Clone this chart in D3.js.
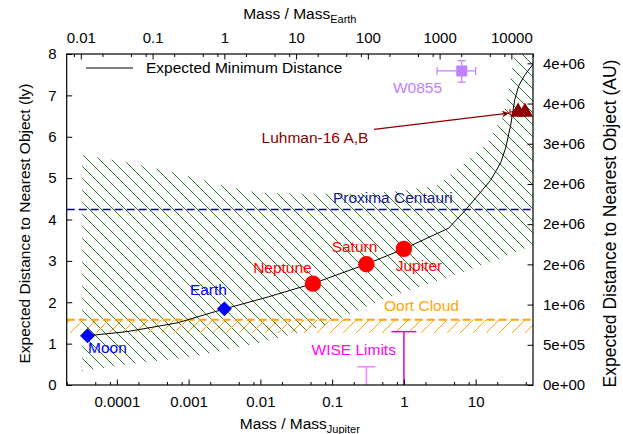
<!DOCTYPE html>
<html>
<head>
<meta charset="utf-8">
<script src="https://cdn.jsdelivr.net/npm/d3@7"></script>
<style>
body { margin: 0; background: #fff; }
text { font-family: "Liberation Sans", Arial, sans-serif; }
</style>
</head>
<body>
<svg class="theSvg" width="623" height="434"></svg>
<script>
var jupiterInEarths = 317.8;

// expected minimum distance (mass in M_jup, distance in ly)
var curveMass = [3.9e-5, 1.38e-4, 6.9e-4, 3.17e-3, 0.0129, 0.0536, 0.30, 1.0, 4.2, 6.9, 16.2, 22.3, 26.2, 30.8, 35.0, 39.8, 48.3, 62.4];
var curveDist = [1.19, 1.29, 1.50, 1.84, 2.13, 2.45, 2.92, 3.29, 3.79, 4.19, 4.95, 5.37, 5.73, 6.28, 6.89, 7.23, 7.49, 7.74];

// hatched band, upper and lower edges
var bandTopMass = [3.28e-5, 1.53e-4, 8.4e-4, 3.46e-3, 0.01, 0.04, 0.198, 0.9, 2.94, 4.92, 8.5, 14.7, 24.5, 27.9, 33.9, 36.3, 63];
var bandTopDist = [5.56, 5.37, 5.08, 4.79, 4.64, 4.62, 4.62, 4.69, 4.83, 5.15, 5.49, 5.87, 6.53, 7.01, 7.85, 8.0, 8.0];
var bandLowMass = [3.28e-5, 1.53e-4, 1.16e-3, 0.01, 0.069, 0.47, 3.24, 16.2, 63];
var bandLowDist = [0.34, 0.51, 0.68, 1.02, 1.40, 2.05, 2.54, 2.97, 3.38];

var bodyNames = ["Moon", "Earth", "Neptune", "Saturn", "Jupiter"];
var bodyMass = [3.9e-5, 3.15e-3, 0.054, 0.30, 1.0];
var bodyDist = [1.19, 1.84, 2.45, 2.92, 3.29];

var proximaDist = 4.24;
var oortDist = [1.26, 1.58];

var wiseMass = [0.3, 1.0];
var wiseDist = [0.44, 1.29];

var w0855Mass = [6.4, 2.9, 10];      // value, low, high
var w0855Dist = [7.59, 7.32, 7.84];

var luhmanMass = [39, 48.7];
var luhmanDist = [6.6, 6.6];
var luhmanMassLow = 30;

var arrowMass = [0.383, 29.1];
var arrowDist = [6.18, 6.57];

var xTickValues = [1e-4, 1e-3, 1e-2, 0.1, 1, 10];
var xTickLabels = ["0.0001", "0.001", "0.01", "0.1", "1", "10"];
var x2TickValues = [0.01, 0.1, 1, 10, 100, 1000, 10000];
var x2TickLabels = ["0.01", "0.1", "1", "10", "100", "1000", "10000"];
var yTickValues = [0, 1, 2, 3, 4, 5, 6, 7, 8];
var y2TickValues = [0, 5e5, 1e6, 1.5e6, 2e6, 2.5e6, 3e6, 3.5e6, 4e6];
var y2TickLabels = ["0e+00", "5e+05", "1e+06", "2e+06", "2e+06", "2e+06", "3e+06", "4e+06", "4e+06"];

var pL = 66.7, pR = 533, pT = 54, pB = 385;
var svg = d3.select(".theSvg");

var x = d3.scaleLog().domain([2e-5, 63]).range([pL, pR]);
var x2 = d3.scaleLog().domain([2e-5 * jupiterInEarths, 63 * jupiterInEarths]).range([pL, pR]);
var y = d3.scaleLinear().domain([0, 8]).range([pB, pT]);
var y2 = d3.scaleLinear().domain([0, 4.116e6]).range([pB, pT]);

var defs = svg.append("defs");
defs.append("clipPath").attr("id", "plotClip")
	.append("rect")
	.attr("x", pL).attr("y", pT)
	.attr("width", pR - pL).attr("height", pB - pT);

var hg = defs.append("pattern").attr("id", "hatchGreen")
	.attr("patternUnits", "userSpaceOnUse")
	.attr("width", 12).attr("height", 12);
hg.append("path")
	.attr("d", "M0,0 L12,12 M-3,9 L3,15 M9,-3 L15,3")
	.attr("stroke", "#2a7f2a").attr("stroke-width", 1);

var ho = defs.append("pattern").attr("id", "hatchOrange")
	.attr("patternUnits", "userSpaceOnUse")
	.attr("width", 13).attr("height", 13);
ho.append("path")
	.attr("d", "M0,13 L13,0 M-3,3 L3,-3 M10,16 L16,10")
	.attr("stroke", "#ffa500").attr("stroke-width", 1);

defs.append("marker").attr("id", "arrowHead")
	.attr("viewBox", "0 0 10 10").attr("refX", 10).attr("refY", 5)
	.attr("markerWidth", 10).attr("markerHeight", 7)
	.attr("markerUnits", "userSpaceOnUse")
	.attr("orient", "auto")
	.append("path").attr("d", "M0,0 L10,5 L0,10 L3,5 Z").attr("fill", "#8b0000");

var plot = svg.append("g").attr("clip-path", "url(#plotClip)");

// green hatched band
var bandPts = bandTopMass.map(function(m, i){ return [m, bandTopDist[i]]; })
	.concat(bandLowMass.map(function(m, i){ return [m, bandLowDist[i]]; }).reverse());
var ptLine = d3.line().x(function(d){ return x(d[0]); }).y(function(d){ return y(d[1]); });
plot.append("path")
	.attr("d", ptLine(bandPts) + "Z")
	.attr("fill", "url(#hatchGreen)");

// oort cloud
plot.append("rect")
	.attr("x", pL).attr("width", pR - pL)
	.attr("y", y(oortDist[1])).attr("height", y(oortDist[0]) - y(oortDist[1]))
	.attr("fill", "url(#hatchOrange)");
plot.append("line")
	.attr("x1", pL).attr("x2", pR)
	.attr("y1", y(oortDist[1])).attr("y2", y(oortDist[1]))
	.attr("stroke", "#ffa500").attr("stroke-width", 2)
	.style("stroke-dasharray", "8,4");

// proxima
plot.append("line")
	.attr("x1", pL).attr("x2", pR)
	.attr("y1", y(proximaDist)).attr("y2", y(proximaDist))
	.attr("stroke", "#00008b").attr("stroke-width", 1.4)
	.style("stroke-dasharray", "8,4");

// curve
plot.append("path")
	.attr("d", ptLine(curveMass.map(function(m, i){ return [m, curveDist[i]]; })))
	.attr("fill", "none").attr("stroke", "#000").attr("stroke-width", 1);

// WISE limits
var wiseColors = ["#ff80ff", "#e000e0"];
var wiseCap = [9, 12.5];
wiseMass.forEach(function(m, i){
	plot.append("line")
		.attr("x1", x(m)).attr("x2", x(m))
		.attr("y1", y(0)).attr("y2", y(wiseDist[i]))
		.attr("stroke", wiseColors[i]).attr("stroke-width", 1.5);
	plot.append("line")
		.attr("x1", x(m) - wiseCap[i]).attr("x2", x(m) + wiseCap[i])
		.attr("y1", y(wiseDist[i])).attr("y2", y(wiseDist[i]))
		.attr("stroke", wiseColors[i]).attr("stroke-width", 1.5);
});

// planets
plot.selectAll(".body")
	.data(bodyNames)
	.enter()
	.append("path")
	.attr("class", "body")
	.attr("transform", function(d, i){
		var t = "translate(" + x(bodyMass[i]) + "," + y(bodyDist[i]) + ")";
		return i < 2 ? t + " rotate(45)" : t;
	})
	.attr("d", function(d, i){
		return i < 2 ? d3.symbol(d3.symbolSquare, 112)() : d3.symbol(d3.symbolCircle, Math.PI * 8.2 * 8.2)();
	})
	.attr("fill", function(d, i){ return i < 2 ? "#0000ff" : "#ff0000"; });

// W0855
var wc = "#c080ff";
var wx = x(w0855Mass[0]), wy = y(w0855Dist[0]);
plot.append("line").attr("x1", x(w0855Mass[1])).attr("x2", x(w0855Mass[2])).attr("y1", wy).attr("y2", wy).attr("stroke", wc).attr("stroke-width", 1.2);
plot.append("line").attr("x1", wx).attr("x2", wx).attr("y1", y(w0855Dist[1])).attr("y2", y(w0855Dist[2])).attr("stroke", wc).attr("stroke-width", 1.2);
[x(w0855Mass[1]), x(w0855Mass[2])].forEach(function(px){
	plot.append("line").attr("x1", px).attr("x2", px).attr("y1", wy - 4).attr("y2", wy + 4).attr("stroke", wc).attr("stroke-width", 1.2);
});
[y(w0855Dist[1]), y(w0855Dist[2])].forEach(function(py){
	plot.append("line").attr("x1", wx - 4).attr("x2", wx + 4).attr("y1", py).attr("y2", py).attr("stroke", wc).attr("stroke-width", 1.2);
});
plot.append("rect").attr("x", wx - 5.5).attr("y", wy - 5.5).attr("width", 11).attr("height", 11).attr("fill", wc);

// Luhman 16
var lc = "#8b0000";
plot.append("line")
	.attr("x1", x(luhmanMassLow)).attr("x2", x(luhmanMass[0]))
	.attr("y1", y(luhmanDist[0])).attr("y2", y(luhmanDist[0]))
	.attr("stroke", lc).attr("stroke-width", 1);
plot.append("line")
	.attr("x1", x(luhmanMassLow)).attr("x2", x(luhmanMassLow))
	.attr("y1", y(luhmanDist[0]) - 3).attr("y2", y(luhmanDist[0]) + 3)
	.attr("stroke", lc).attr("stroke-width", 1);
plot.selectAll(".luhman")
	.data(luhmanMass)
	.enter()
	.append("path")
	.attr("class", "luhman")
	.attr("transform", function(d, i){ return "translate(" + x(d) + "," + y(luhmanDist[i]) + ")"; })
	.attr("d", d3.symbol(d3.symbolTriangle, 115)())
	.attr("fill", lc);

svg.append("line")
	.attr("x1", x(arrowMass[0])).attr("y1", y(arrowDist[0]))
	.attr("x2", x(arrowMass[1])).attr("y2", y(arrowDist[1]))
	.attr("stroke", lc).attr("stroke-width", 1.2)
	.attr("marker-end", "url(#arrowHead)");

// labels, placed in data coordinates
var labels = [
	["Moon", 3.96e-5, 0.90, "#0000ff", "start"],
	["Earth", 1.89e-3, 2.31, "#0000ff", "middle"],
	["Neptune", 0.0203, 2.835, "#ff0000", "middle"],
	["Saturn", 0.205, 3.342, "#ff0000", "middle"],
	["Jupiter", 1.62, 2.876, "#ff0000", "middle"],
	["Proxima Centauri", 0.70, 4.52, "#1a1a8c", "middle"],
	["Oort Cloud", 1.76, 1.909, "#ffa500", "middle"],
	["WISE Limits", 0.20, 0.863, "#ff00ff", "middle"],
	["W0855", 1.55, 7.20, wc, "middle"],
	["Luhman-16 A,B", 0.0577, 5.977, lc, "middle"]
];
svg.selectAll(".lbl")
	.data(labels)
	.enter()
	.append("text")
	.attr("class", "lbl")
	.attr("x", function(d){ return x(d[1]); })
	.attr("y", function(d){ return y(d[2]); })
	.attr("dy", "0.35em")
	.attr("text-anchor", function(d){ return d[4]; })
	.attr("font-size", 15.5)
	.attr("fill", function(d){ return d[3]; })
	.text(function(d){ return d[0]; });

// key
svg.append("line").attr("x1", 86).attr("x2", 133).attr("y1", 68).attr("y2", 68).attr("stroke", "#000").attr("stroke-width", 1);
svg.append("text").attr("x", 146).attr("y", 68).attr("dy", "0.35em").attr("font-size", 15.5).text("Expected Minimum Distance");

// axes
function minorOf(scale){
	var dom = scale.domain(), out = [];
	for (var e = Math.floor(Math.log10(dom[0])); e <= Math.ceil(Math.log10(dom[1])); e++){
		[2, 5, 8].forEach(function(k){
			var v = k * Math.pow(10, e);
			if (v >= dom[0] && v <= dom[1]) out.push(v);
		});
	}
	return out;
}
function styleAxis(g){
	g.select(".domain").remove();
	g.attr("font-family", "Liberation Sans, Arial, sans-serif").attr("font-size", 15);
	g.selectAll("line").attr("stroke", "#000");
	g.selectAll("text").attr("fill", "#000");
}

svg.append("g").attr("transform", "translate(0," + pB + ")")
	.call(d3.axisBottom(x).tickValues(xTickValues).tickFormat(function(d, i){ return xTickLabels[i]; }).tickSize(-5.5).tickPadding(11))
	.call(styleAxis);
svg.append("g").attr("transform", "translate(0," + pB + ")")
	.call(d3.axisBottom(x).tickValues(minorOf(x)).tickFormat("").tickSize(-3))
	.call(styleAxis);

svg.append("g").attr("transform", "translate(0," + pT + ")")
	.call(d3.axisTop(x2).tickValues(x2TickValues).tickFormat(function(d, i){ return x2TickLabels[i]; }).tickSize(-5.5).tickPadding(11.5))
	.call(styleAxis);
svg.append("g").attr("transform", "translate(0," + pT + ")")
	.call(d3.axisTop(x2).tickValues(minorOf(x2)).tickFormat("").tickSize(-3))
	.call(styleAxis);

svg.append("g").attr("transform", "translate(" + pL + ",0)")
	.call(d3.axisLeft(y).tickValues(yTickValues).tickFormat(d3.format("d")).tickSize(-5.5).tickPadding(10))
	.call(styleAxis);

svg.append("g").attr("transform", "translate(" + pR + ",0)")
	.call(d3.axisRight(y2).tickValues(y2TickValues).tickFormat(function(d, i){ return y2TickLabels[i]; }).tickSize(-5.5).tickPadding(10))
	.call(styleAxis);

svg.append("rect")
	.attr("x", pL).attr("y", pT)
	.attr("width", pR - pL).attr("height", pB - pT)
	.attr("fill", "none").attr("stroke", "#000").attr("stroke-width", 1.2);

// titles
svg.append("text")
	.attr("transform", "translate(25," + ((pT + pB) / 2 + 4) + ") rotate(-90)")
	.attr("text-anchor", "middle").attr("dy", "0.35em").attr("font-size", 15.5)
	.text("Expected Distance to Nearest Object (ly)");
svg.append("text")
	.attr("transform", "translate(610," + ((pT + pB) / 2 + 4) + ") rotate(-90)")
	.attr("text-anchor", "middle").attr("dy", "0.35em").attr("font-size", 17.5)
	.text("Expected Distance to Nearest Object (AU)");

var xt = svg.append("text").attr("x", (pL + pR) / 2).attr("y", 428.5)
	.attr("text-anchor", "middle").attr("font-size", 15.5);
xt.append("tspan").text("Mass / Mass");
xt.append("tspan").attr("font-size", 11).attr("dy", 4).text("Jupiter");

var x2t = svg.append("text").attr("x", (pL + pR) / 2).attr("y", 18.8)
	.attr("text-anchor", "middle").attr("font-size", 15.5);
x2t.append("tspan").text("Mass / Mass");
x2t.append("tspan").attr("font-size", 11).attr("dy", 4).text("Earth");
</script>
</body>
</html>
